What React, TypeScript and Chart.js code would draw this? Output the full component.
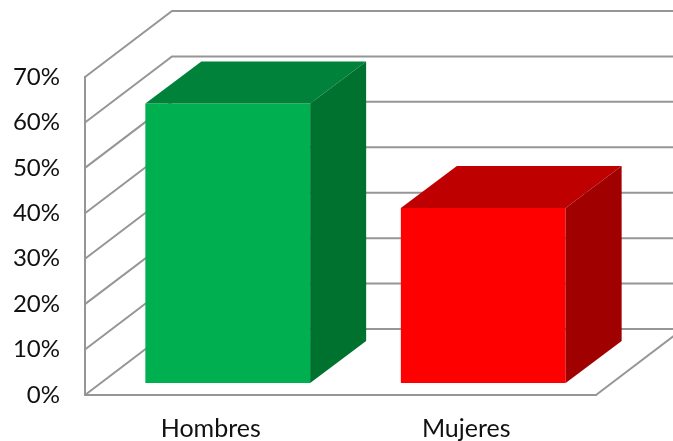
import React, { useEffect, useRef } from "react";
import { Chart, registerables } from "chart.js";

Chart.register(...registerables);

const categories = ["Hombres", "Mujeres"];
const shares = [61.5, 38.5];
const frontColors = ["#00B050", "#FF0000"];
const topColors = ["#00823B", "#BF0000"];
const sideColors = ["#00722F", "#A00000"];

const GRID = "#969696";
const TEXT = "#111111";
const WALL = { dx: 87, dy: -66 };
const INSET = { dx: 15, dy: -12 };
const BAR_DEPTH = { dx: 56, dy: -42 };

const walls3d = {
  id: "walls3d",
  beforeDatasetsDraw(chart: any) {
    const { ctx, scales } = chart;
    const y = scales.y;
    const left = chart.chartArea.left;
    const right = chart.chartArea.right;
    ctx.save();
    ctx.strokeStyle = GRID;
    ctx.lineWidth = 2;
    ctx.lineJoin = "miter";
    y.ticks.forEach((t: any) => {
      const py = y.getPixelForValue(t.value);
      ctx.beginPath();
      ctx.moveTo(left, py);
      ctx.lineTo(left + WALL.dx, py + WALL.dy);
      ctx.lineTo(right + WALL.dx, py + WALL.dy);
      ctx.stroke();
    });
    const base = y.getPixelForValue(0);
    ctx.beginPath();
    ctx.moveTo(right, base);
    ctx.lineTo(right + WALL.dx, base + WALL.dy);
    ctx.stroke();
    ctx.restore();
  },
  beforeDatasetDraw(chart: any) {
    chart.ctx.save();
    chart.ctx.translate(INSET.dx, INSET.dy);
  },
  afterDatasetDraw(chart: any, args: any) {
    const { ctx } = chart;
    args.meta.data.forEach((bar: any, i: number) => {
      const l = bar.x - bar.width / 2;
      const r = bar.x + bar.width / 2;
      const t = bar.y;
      const b = bar.base;
      const { dx, dy } = BAR_DEPTH;
      ctx.fillStyle = topColors[i];
      ctx.beginPath();
      ctx.moveTo(l, t);
      ctx.lineTo(l + dx, t + dy);
      ctx.lineTo(r + dx, t + dy);
      ctx.lineTo(r, t);
      ctx.closePath();
      ctx.fill();
      ctx.fillStyle = sideColors[i];
      ctx.beginPath();
      ctx.moveTo(r, t);
      ctx.lineTo(r + dx, t + dy);
      ctx.lineTo(r + dx, b + dy);
      ctx.lineTo(r, b);
      ctx.closePath();
      ctx.fill();
    });
    ctx.restore();
  },
};

export default function App() {
  const ref = useRef<HTMLCanvasElement>(null);
  useEffect(() => {
    const chart = new Chart(ref.current as HTMLCanvasElement, {
      type: "bar",
      data: {
        labels: categories,
        datasets: [
          {
            data: shares,
            backgroundColor: frontColors,
            borderWidth: 0,
            barPercentage: 0.645,
            categoryPercentage: 1,
            clip: false,
          } as any,
        ],
      },
      plugins: [walls3d],
      options: {
        animation: false,
        responsive: false,
        layout: { padding: { top: 77, right: 77, left: 0, bottom: 0 } },
        plugins: { legend: { display: false }, tooltip: { enabled: false } },
        scales: {
          x: {
            grid: { display: false },
            border: { display: true, color: GRID, width: 2 },
            ticks: {
              color: TEXT,
              padding: 11,
              labelOffset: -2,
              maxRotation: 0,
              font: { family: "Lato", size: 25 },
            },
            afterFit: (s: any) => {
              s.height = 46;
            },
          },
          y: {
            min: 0,
            max: 70,
            grid: { display: false, drawTicks: false },
            border: { display: true, color: GRID, width: 2 },
            ticks: {
              stepSize: 10,
              color: TEXT,
              padding: 25,
              font: { family: "Lato", size: 24 },
              callback: (v: any) => `${v}%`,
            },
            afterFit: (s: any) => {
              s.width = 85;
            },
          },
        },
      },
    });
    return () => chart.destroy();
  }, []);
  return (
    <div style={{ position: "absolute", left: 0, top: 0, width: 673, height: 441, background: "#fff" }}>
      <canvas ref={ref} width={673} height={441} style={{ display: "block" }} />
    </div>
  );
}
